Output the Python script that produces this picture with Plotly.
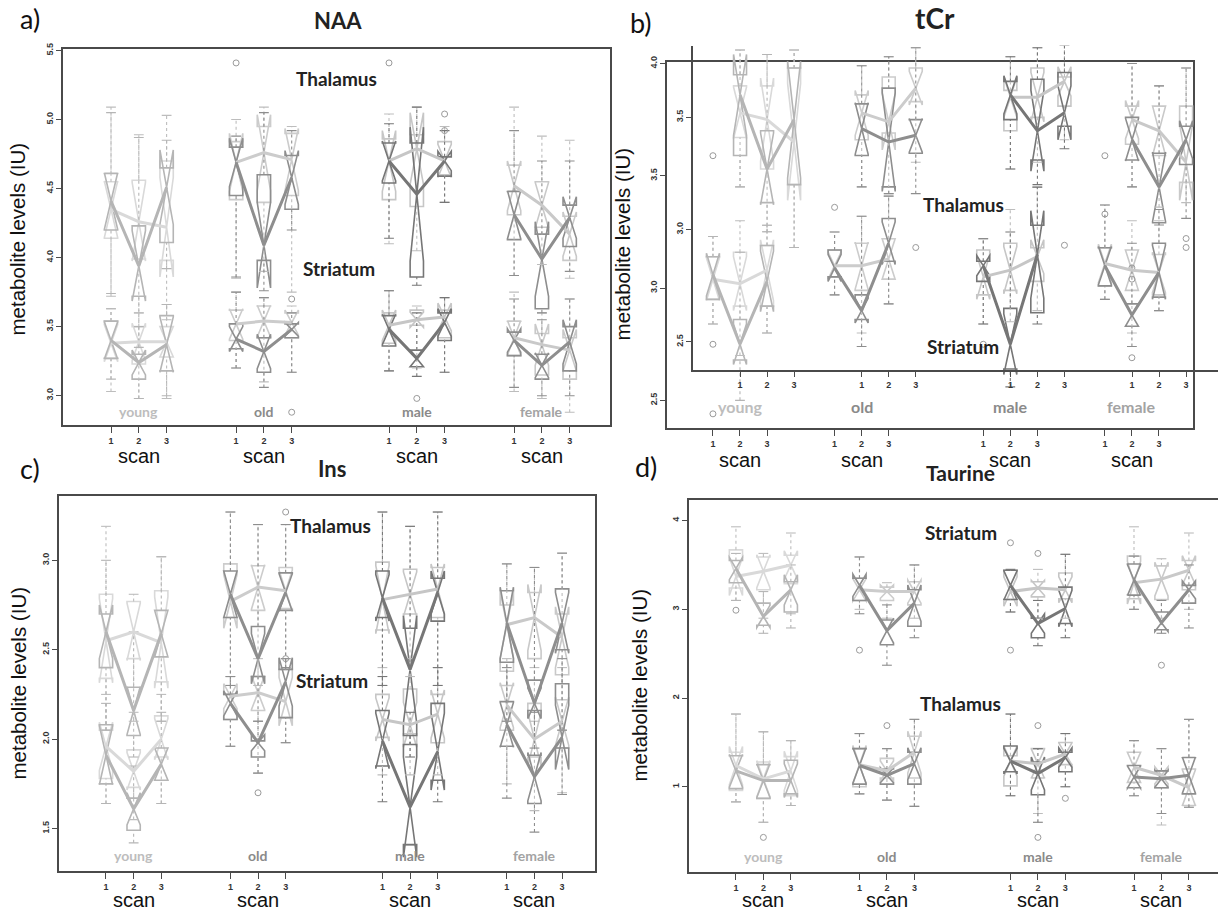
import plotly.graph_objects as go

W, H = 1218, 912

# ---------------- categories / positions ----------------
GROUPS = ["young", "old", "male", "female"]
SCAN_X = [1, 2, 3, 5.5, 6.5, 7.5, 11, 12, 13, 15.5, 16.5, 17.5]
SCAN_LABELS = ["1", "2", "3"] * 4
SCAN_MID = [2, 6.5, 12, 16.5]

# ---------------- a) NAA ----------------
A_TH_L_MED = [4.35, 4.26, 4.22, 4.69, 4.76, 4.71, 4.70, 4.79, 4.70, 4.52, 4.38, 4.17]
A_TH_L_Q1 = [4.14, 3.99, 3.98, 4.42, 4.40, 4.45, 4.42, 4.37, 4.60, 4.31, 4.22, 3.98]
A_TH_L_Q3 = [4.55, 4.56, 4.70, 4.84, 4.95, 4.90, 4.86, 4.89, 4.84, 4.67, 4.55, 4.30]
A_TH_L_LO = [3.72, 3.60, 3.55, 3.85, 3.90, 3.75, 4.10, 4.05, 4.40, 3.87, 3.95, 3.85]
A_TH_L_HI = [5.09, 4.89, 5.03, 5.00, 5.09, 4.95, 5.04, 5.09, 4.95, 5.09, 4.88, 4.85]
A_TH_D_MED = [4.41, 3.94, 4.51, 4.69, 4.09, 4.58, 4.70, 4.46, 4.70, 4.31, 3.99, 4.29]
A_TH_D_Q1 = [4.20, 3.72, 4.11, 4.45, 3.98, 4.35, 4.54, 3.86, 4.59, 4.13, 3.63, 4.08]
A_TH_D_Q3 = [4.61, 4.23, 4.65, 4.80, 4.60, 4.74, 4.83, 4.83, 4.73, 4.48, 4.17, 4.38]
A_TH_D_LO = [3.74, 3.35, 3.92, 3.86, 3.76, 4.20, 4.14, 3.80, 4.40, 3.87, 3.60, 3.90]
A_TH_D_HI = [5.05, 4.87, 4.85, 4.88, 5.05, 4.92, 4.97, 5.09, 4.92, 4.92, 4.70, 4.70]
A_ST_L_MED = [3.38, 3.39, 3.39, 3.52, 3.54, 3.53, 3.51, 3.55, 3.57, 3.42, 3.37, 3.33]
A_ST_L_Q1 = [3.27, 3.23, 3.28, 3.40, 3.42, 3.42, 3.38, 3.51, 3.42, 3.29, 3.15, 3.12]
A_ST_L_Q3 = [3.54, 3.50, 3.50, 3.62, 3.65, 3.60, 3.60, 3.62, 3.62, 3.54, 3.45, 3.42]
A_ST_L_LO = [3.03, 2.98, 2.98, 3.20, 3.10, 3.17, 3.18, 3.20, 3.17, 3.03, 2.98, 2.88]
A_ST_L_HI = [3.63, 3.60, 3.66, 3.75, 3.71, 3.65, 3.76, 3.65, 3.71, 3.75, 3.60, 3.70]
A_ST_D_MED = [3.40, 3.24, 3.37, 3.41, 3.32, 3.48, 3.48, 3.27, 3.53, 3.40, 3.22, 3.39]
A_ST_D_Q1 = [3.27, 3.12, 3.18, 3.34, 3.17, 3.42, 3.36, 3.21, 3.40, 3.29, 3.12, 3.18]
A_ST_D_Q3 = [3.54, 3.30, 3.58, 3.52, 3.42, 3.52, 3.58, 3.33, 3.60, 3.46, 3.30, 3.50]
A_ST_D_LO = [3.12, 2.98, 3.00, 3.20, 3.06, 3.17, 3.18, 3.14, 3.17, 3.06, 3.00, 3.00]
A_ST_D_HI = [3.63, 3.50, 3.66, 3.75, 3.71, 3.60, 3.76, 3.60, 3.71, 3.70, 3.55, 3.70]
A_OUT_X = [5.5, 11, 13, 13, 7.5, 7.5, 12]
A_OUT_Y = [5.41, 5.41, 5.04, 4.92, 3.70, 2.88, 2.98]

# ---------------- b) tCr ----------------
B_UP_L_MED = [3.52, 3.49, 3.39, 3.52, 3.48, 3.63, 3.59, 3.59, 3.66, 3.49, 3.44, 3.30]
B_UP_L_Q1 = [3.41, 3.27, 3.20, 3.40, 3.43, 3.57, 3.44, 3.50, 3.55, 3.38, 3.33, 3.21]
B_UP_L_Q3 = [3.64, 3.64, 3.72, 3.60, 3.68, 3.72, 3.62, 3.72, 3.68, 3.55, 3.55, 3.55]
B_UP_L_LO = [3.19, 2.99, 2.92, 3.19, 3.16, 3.30, 3.27, 3.30, 3.40, 3.19, 3.10, 3.12]
B_UP_L_HI = [3.80, 3.78, 3.80, 3.73, 3.77, 3.81, 3.77, 3.81, 3.82, 3.74, 3.64, 3.72]
B_UP_D_MED = [3.60, 3.27, 3.49, 3.45, 3.39, 3.42, 3.60, 3.44, 3.52, 3.40, 3.19, 3.40]
B_UP_D_Q1 = [3.33, 3.12, 3.20, 3.33, 3.19, 3.34, 3.49, 3.31, 3.46, 3.31, 3.03, 3.29]
B_UP_D_Q3 = [3.69, 3.44, 3.72, 3.56, 3.63, 3.49, 3.66, 3.67, 3.70, 3.50, 3.34, 3.46]
B_UP_D_LO = [3.19, 2.99, 2.92, 3.19, 3.16, 3.16, 3.27, 3.20, 3.36, 3.19, 3.02, 3.05]
B_UP_D_HI = [3.80, 3.78, 3.80, 3.73, 3.77, 3.81, 3.77, 3.81, 3.82, 3.74, 3.64, 3.72]
B_LO_L_MED = [3.04, 3.02, 3.08, 3.10, 3.10, 3.13, 3.05, 3.08, 3.14, 3.11, 3.08, 3.07]
B_LO_L_Q1 = [2.95, 2.92, 2.92, 3.05, 2.99, 3.04, 2.97, 2.99, 3.03, 3.01, 2.99, 2.97]
B_LO_L_Q3 = [3.14, 3.16, 3.19, 3.17, 3.20, 3.22, 3.17, 3.20, 3.18, 3.18, 3.17, 3.15]
B_LO_L_LO = [2.84, 2.70, 2.80, 2.97, 2.80, 2.93, 2.84, 2.85, 2.90, 2.95, 2.80, 2.90]
B_LO_L_HI = [3.23, 3.30, 3.28, 3.25, 3.32, 3.41, 3.22, 3.35, 3.45, 3.37, 3.30, 3.30]
B_LO_D_MED = [3.06, 2.75, 3.03, 3.09, 2.90, 3.20, 3.10, 2.75, 3.15, 3.10, 2.88, 3.07]
B_LO_D_Q1 = [2.95, 2.68, 2.92, 3.05, 2.86, 3.12, 3.03, 2.64, 2.89, 3.01, 2.83, 2.96]
B_LO_D_Q3 = [3.14, 2.86, 3.19, 3.17, 2.97, 3.31, 3.12, 2.91, 3.28, 3.18, 2.93, 3.20]
B_LO_D_LO = [2.84, 2.50, 2.80, 2.97, 2.74, 2.93, 2.84, 2.56, 2.84, 2.95, 2.74, 2.90]
B_LO_D_HI = [3.23, 3.16, 3.28, 3.25, 3.32, 3.41, 3.22, 3.25, 3.45, 3.37, 3.20, 3.35]
B_OUT_LO_X = [1, 1, 1, 5.5, 11, 15.5, 15.5, 16.5, 16.5, 16.5]
B_OUT_LO_Y = [3.59, 2.75, 2.44, 3.36, 2.75, 3.59, 3.33, 3.09, 3.04, 2.69]
B_OUT_UP_X = [7.5, 13, 17.5, 17.5]
B_OUT_UP_Y = [2.92, 2.93, 2.96, 2.92]

# ---------------- c) Ins ----------------
C_TH_L_MED = [2.55, 2.60, 2.54, 2.77, 2.85, 2.83, 2.78, 2.81, 2.84, 2.64, 2.68, 2.57]
C_TH_L_Q1 = [2.34, 2.45, 2.32, 2.68, 2.72, 2.73, 2.61, 2.70, 2.68, 2.38, 2.45, 2.36]
C_TH_L_Q3 = [2.81, 2.77, 2.83, 2.98, 2.97, 2.96, 2.99, 2.95, 2.96, 2.75, 2.82, 2.70]
C_TH_L_LO = [2.05, 2.10, 2.10, 2.30, 2.30, 2.40, 2.30, 2.35, 2.30, 2.10, 2.10, 2.05]
C_TH_L_HI = [3.19, 2.81, 3.02, 3.27, 3.20, 3.20, 3.27, 3.19, 3.27, 2.98, 2.96, 3.04]
C_TH_D_MED = [2.60, 2.16, 2.59, 2.81, 2.45, 2.82, 2.79, 2.39, 2.82, 2.65, 2.20, 2.65]
C_TH_D_Q1 = [2.40, 2.02, 2.46, 2.68, 2.35, 2.72, 2.68, 2.02, 2.66, 2.43, 2.16, 2.50]
C_TH_D_Q3 = [2.70, 2.29, 2.72, 2.94, 2.63, 2.93, 2.94, 2.62, 2.90, 2.83, 2.33, 2.84]
C_TH_D_LO = [2.05, 1.90, 2.10, 2.30, 2.10, 2.40, 2.30, 1.90, 2.30, 2.10, 1.95, 2.05]
C_TH_D_HI = [3.00, 2.60, 3.02, 3.27, 3.20, 3.20, 3.27, 3.19, 3.27, 2.98, 2.96, 3.04]
C_ST_L_MED = [1.96, 1.82, 2.00, 2.24, 2.26, 2.21, 2.11, 2.08, 2.14, 2.19, 2.00, 2.10]
C_ST_L_Q1 = [1.78, 1.73, 1.90, 2.11, 2.16, 2.12, 2.01, 2.03, 1.98, 2.05, 1.90, 1.95]
C_ST_L_Q3 = [2.05, 1.94, 2.13, 2.25, 2.35, 2.39, 2.25, 2.28, 2.25, 2.30, 2.20, 2.22]
C_ST_L_LO = [1.64, 1.55, 1.64, 1.96, 1.81, 1.98, 1.80, 1.80, 1.80, 1.75, 1.60, 1.70]
C_ST_L_HI = [2.25, 2.15, 2.25, 2.35, 2.45, 2.45, 2.40, 2.45, 2.40, 2.45, 2.40, 2.40]
C_ST_D_MED = [1.91, 1.61, 1.86, 2.20, 1.98, 2.32, 1.99, 1.62, 1.93, 2.08, 1.79, 2.01]
C_ST_D_Q1 = [1.75, 1.49, 1.77, 2.11, 1.90, 2.12, 1.85, 1.41, 1.77, 1.96, 1.64, 1.95]
C_ST_D_Q3 = [2.08, 1.67, 1.95, 2.25, 1.99, 2.39, 2.16, 1.97, 2.20, 2.21, 1.91, 2.31]
C_ST_D_LO = [1.64, 1.42, 1.64, 1.96, 1.81, 1.98, 1.65, 1.41, 1.65, 1.67, 1.48, 1.69]
C_ST_D_HI = [2.20, 1.85, 2.15, 2.35, 2.10, 2.45, 2.35, 2.15, 2.40, 2.40, 2.15, 2.45]
C_OUT_X = [6.5, 7.5, 7.5]
C_OUT_Y = [1.70, 2.45, 3.27]

# ---------------- d) Taurine ----------------
D_ST_L_MED = [3.37, 3.43, 3.50, 3.22, 3.20, 3.20, 3.20, 3.24, 3.22, 3.30, 3.34, 3.44]
D_ST_L_Q1 = [3.24, 3.22, 3.29, 3.10, 3.10, 3.05, 3.11, 3.14, 3.12, 3.12, 3.11, 3.22]
D_ST_L_Q3 = [3.67, 3.59, 3.61, 3.35, 3.25, 3.31, 3.44, 3.31, 3.41, 3.60, 3.49, 3.55]
D_ST_L_LO = [3.10, 2.90, 2.95, 3.00, 2.90, 2.90, 2.97, 2.90, 2.90, 3.00, 2.90, 3.00]
D_ST_L_HI = [3.93, 3.63, 3.86, 3.59, 3.30, 3.50, 3.45, 3.45, 3.62, 3.93, 3.57, 3.86]
D_ST_D_MED = [3.46, 2.92, 3.22, 3.27, 2.76, 3.07, 3.27, 2.84, 3.01, 3.33, 2.85, 3.22]
D_ST_D_Q1 = [3.30, 2.82, 2.97, 3.10, 2.60, 2.81, 3.11, 2.68, 2.84, 3.16, 2.77, 3.07]
D_ST_D_Q3 = [3.55, 3.07, 3.31, 3.35, 2.88, 3.22, 3.44, 2.90, 3.25, 3.51, 2.97, 3.27]
D_ST_D_LO = [3.10, 2.73, 2.79, 2.95, 2.37, 2.68, 2.97, 2.59, 2.68, 3.00, 2.73, 2.79]
D_ST_D_HI = [3.63, 3.20, 3.50, 3.59, 3.05, 3.50, 3.45, 3.10, 3.62, 3.60, 3.10, 3.50]
D_TH_L_MED = [1.24, 1.09, 1.18, 1.25, 1.18, 1.39, 1.29, 1.26, 1.37, 1.22, 1.13, 0.99]
D_TH_L_Q1 = [0.96, 0.87, 0.90, 1.00, 1.10, 1.10, 1.01, 1.10, 1.25, 1.05, 0.99, 0.79]
D_TH_L_Q3 = [1.39, 1.28, 1.34, 1.43, 1.32, 1.57, 1.35, 1.43, 1.50, 1.39, 1.18, 1.20]
D_TH_L_LO = [0.83, 0.60, 0.79, 0.92, 0.85, 0.78, 0.90, 0.70, 1.00, 0.90, 0.57, 0.77]
D_TH_L_HI = [1.82, 1.62, 1.52, 1.60, 1.43, 1.76, 1.82, 1.43, 1.60, 1.52, 1.43, 1.76]
D_TH_D_MED = [1.18, 1.07, 1.07, 1.24, 1.13, 1.26, 1.29, 1.15, 1.33, 1.11, 1.09, 1.13]
D_TH_D_Q1 = [0.98, 0.87, 0.92, 1.03, 1.03, 1.03, 1.17, 0.91, 1.17, 0.99, 0.99, 0.92]
D_TH_D_Q3 = [1.35, 1.25, 1.30, 1.43, 1.20, 1.39, 1.46, 1.28, 1.39, 1.24, 1.18, 1.33]
D_TH_D_LO = [0.83, 0.60, 0.79, 0.92, 0.85, 0.78, 0.90, 0.60, 1.00, 0.90, 0.70, 0.77]
D_TH_D_HI = [1.82, 1.62, 1.52, 1.60, 1.43, 1.76, 1.82, 1.43, 1.60, 1.52, 1.43, 1.76]
D_OUT_X = [1, 5.5, 11, 11, 12, 16.5, 2, 6.5, 12, 12, 13]
D_OUT_Y = [2.99, 2.54, 3.75, 2.54, 3.63, 2.37, 0.43, 1.69, 1.69, 0.43, 0.87]

# ---------------- styles ----------------
COL = {
    "young": ("#d9d9d9", "#b5b5b5"),
    "old": ("#cccccc", "#8e8e8e"),
    "male": ("#c6c6c6", "#767676"),
    "female": ("#c9c9c9", "#8e8e8e"),
}
WHISK_COL = "#bdbdbd"
GROUP_LABEL_COL = ["#bdbdbd", "#8a8a8a", "#8a8a8a", "#a3a3a3"]
NOTCH_K = 0.5
BOX_W = 0.48


def fx(p):
    return p / W


def fy(p):
    return 1 - p / H


fig = go.Figure()


def add_boxes(xa, ya, med, q1, q3, lo, hi, shade):
    for gi, g in enumerate(GROUPS):
        s = slice(gi * 3, gi * 3 + 3)
        c = COL[g][shade]
        wc = WHISK_COL if shade == 0 else c
        xs = SCAN_X[s]
        # dotted whiskers with small caps
        wx, wy, cx, cy = [], [], [], []
        for x, a, b, l, h in zip(xs, q1[s], q3[s], lo[s], hi[s]):
            wx += [x, x, None, x, x, None]
            wy += [l, a, None, b, h, None]
            cx += [x, x]
            cy += [l, h]
        fig.add_trace(go.Scatter(
            x=wx, y=wy, mode="lines", line=dict(color=wc, width=1.1, dash="dot"),
            xaxis=xa, yaxis=ya, showlegend=False, hoverinfo="skip"))
        fig.add_trace(go.Scatter(
            x=cx, y=cy, mode="markers",
            marker=dict(symbol="line-ew-open", size=7, color=wc, line=dict(color=wc, width=1.1)),
            xaxis=xa, yaxis=ya, showlegend=False, hoverinfo="skip"))
        notch = [NOTCH_K * (b - a) for a, b in zip(q1[s], q3[s])]
        fig.add_trace(go.Box(
            x=xs, q1=q1[s], median=med[s], q3=q3[s],
            lowerfence=q1[s], upperfence=q3[s], notchspan=notch,
            notched=True, notchwidth=0.5, width=BOX_W, whiskerwidth=0,
            line=dict(color=c, width=1.6), fillcolor="rgba(0,0,0,0)",
            xaxis=xa, yaxis=ya, showlegend=False, hoverinfo="skip"))


def add_lines(xa, ya, med, shade):
    for gi, g in enumerate(GROUPS):
        s = slice(gi * 3, gi * 3 + 3)
        fig.add_trace(go.Scatter(
            x=SCAN_X[s], y=med[s], mode="lines",
            line=dict(color=COL[g][shade], width=3),
            xaxis=xa, yaxis=ya, showlegend=False, hoverinfo="skip"))


def add_outliers(xa, ya, xs, ys):
    fig.add_trace(go.Scatter(
        x=xs, y=ys, mode="markers",
        marker=dict(symbol="circle-open", size=6, color="#9a9a9a", line=dict(width=1)),
        xaxis=xa, yaxis=ya, showlegend=False, hoverinfo="skip"))


def panel(xa, ya, series, outs):
    for s in series:
        add_boxes(xa, ya, *s[:5], 0)
    for s in series:
        add_boxes(xa, ya, *s[5:10], 1)
    for o in outs:
        add_outliers(xa, ya, *o)
    for s in series:
        add_lines(xa, ya, s[0], 0)
    for s in series:
        add_lines(xa, ya, s[5], 1)


# a
panel("x", "y", [
    (A_TH_L_MED, A_TH_L_Q1, A_TH_L_Q3, A_TH_L_LO, A_TH_L_HI,
     A_TH_D_MED, A_TH_D_Q1, A_TH_D_Q3, A_TH_D_LO, A_TH_D_HI),
    (A_ST_L_MED, A_ST_L_Q1, A_ST_L_Q3, A_ST_L_LO, A_ST_L_HI,
     A_ST_D_MED, A_ST_D_Q1, A_ST_D_Q3, A_ST_D_LO, A_ST_D_HI)],
    [(A_OUT_X, A_OUT_Y)])
# b outer (lower set)
panel("x2", "y2", [
    (B_LO_L_MED, B_LO_L_Q1, B_LO_L_Q3, B_LO_L_LO, B_LO_L_HI,
     B_LO_D_MED, B_LO_D_Q1, B_LO_D_Q3, B_LO_D_LO, B_LO_D_HI)],
    [(B_OUT_LO_X, B_OUT_LO_Y)])
# b inner (upper set)
panel("x3", "y3", [
    (B_UP_L_MED, B_UP_L_Q1, B_UP_L_Q3, B_UP_L_LO, B_UP_L_HI,
     B_UP_D_MED, B_UP_D_Q1, B_UP_D_Q3, B_UP_D_LO, B_UP_D_HI)],
    [(B_OUT_UP_X, B_OUT_UP_Y)])
# c
panel("x4", "y4", [
    (C_TH_L_MED, C_TH_L_Q1, C_TH_L_Q3, C_TH_L_LO, C_TH_L_HI,
     C_TH_D_MED, C_TH_D_Q1, C_TH_D_Q3, C_TH_D_LO, C_TH_D_HI),
    (C_ST_L_MED, C_ST_L_Q1, C_ST_L_Q3, C_ST_L_LO, C_ST_L_HI,
     C_ST_D_MED, C_ST_D_Q1, C_ST_D_Q3, C_ST_D_LO, C_ST_D_HI)],
    [(C_OUT_X, C_OUT_Y)])
# d
panel("x5", "y5", [
    (D_ST_L_MED, D_ST_L_Q1, D_ST_L_Q3, D_ST_L_LO, D_ST_L_HI,
     D_ST_D_MED, D_ST_D_Q1, D_ST_D_Q3, D_ST_D_LO, D_ST_D_HI),
    (D_TH_L_MED, D_TH_L_Q1, D_TH_L_Q3, D_TH_L_LO, D_TH_L_HI,
     D_TH_D_MED, D_TH_D_Q1, D_TH_D_Q3, D_TH_D_LO, D_TH_D_HI)],
    [(D_OUT_X, D_OUT_Y)])

LINE_C = "#4a4a4a"
TICKFONT = dict(family="Liberation Sans", size=9, color="#333", weight="bold")


def xaxis(x0, x1, rng, anchor, mirror=True):
    return dict(domain=[fx(x0), fx(x1)], range=rng, anchor=anchor,
                tickmode="array", tickvals=SCAN_X, ticktext=SCAN_LABELS,
                ticks="outside", ticklen=6, tickwidth=1.3, tickcolor=LINE_C,
                showline=True, linecolor=LINE_C, linewidth=1.5, mirror=mirror,
                showgrid=False, zeroline=False, tickfont=TICKFONT, fixedrange=True)


def yaxis(top, bot, rng, anchor, tickvals, fmt, mirror=True):
    return dict(domain=[fy(bot), fy(top)], range=rng, anchor=anchor,
                tickmode="array", tickvals=tickvals, tickformat=fmt, tickangle=-90,
                ticks="outside", ticklen=5, tickwidth=1.3, tickcolor=LINE_C,
                showline=True, linecolor=LINE_C, linewidth=1.5, mirror=mirror,
                showgrid=False, zeroline=False, tickfont=TICKFONT, fixedrange=True)


fig.update_layout(
    width=W, height=H, autosize=False,
    margin=dict(l=0, r=0, t=0, b=0),
    paper_bgcolor="white", plot_bgcolor="rgba(0,0,0,0)",
    boxmode="overlay", showlegend=False,
    xaxis=xaxis(63, 610, [-0.727, 18.95], "y"),
    yaxis=yaxis(43, 422, [2.786, 5.513], "x", [3.0, 3.5, 4.0, 4.5, 5.0, 5.5], ".1f"),
    xaxis2=xaxis(667, 1193, [-0.70, 18.76], "y2"),
    yaxis2=yaxis(56, 425, [2.376, 4.009], "x2", [2.5, 3.0, 3.5, 4.0], ".1f"),
    xaxis3=xaxis(693, 1218, [-0.74, 18.68], "y3", mirror=False),
    yaxis3=yaxis(40, 366, [2.376, 3.819], "x3", [2.5, 3.0, 3.5], ".1f", mirror=False),
    xaxis4=xaxis(59, 595, [-0.70, 18.69], "y4"),
    yaxis4=yaxis(493, 871, [1.261, 3.361], "x4", [1.5, 2.0, 2.5, 3.0], ".1f"),
    xaxis5=xaxis(689, 1218, [-0.71, 18.56], "y5"),
    yaxis5=yaxis(497, 872, [0.037, 4.235], "x5", [1, 2, 3, 4], "d", mirror=False),
)

ann = []
BOLD = dict(family="Lato", weight="bold", color="#222")


def txt(x, y, text, size, font=None, angle=0, xref="paper", yref="paper", color=None):
    f = dict(font or dict(family="Liberation Sans", color="#111"))
    f["size"] = size
    if color:
        f["color"] = color
    ann.append(dict(x=x, y=y, xref=xref, yref=yref, text=text, showarrow=False,
                    xanchor="center", yanchor="middle", textangle=angle, font=f))


def py_(p, size):
    # compensate the visual drop of centred annotation text
    return fy(p - 0.27 * size)


# panel letters
for t, px, py in [("a)", 30, 20), ("b)", 641, 24), ("c)", 30, 473), ("d)", 646, 471)]:
    txt(fx(px), py_(py, 27), t, 27, dict(family="Lato", color="#111"))
# titles
txt(fx(338), py_(21, 22), "NAA", 22, BOLD)
txt(fx(935), py_(20, 28), "tCr", 28, BOLD)
txt(fx(332), py_(472, 22), "Ins", 22, BOLD)
txt(fx(960), py_(475, 21), "Taurine", 21, BOLD)
# y titles
for px, py in [(22, 235), (627, 240), (24, 682), (644, 684)]:
    txt(fx(px - 5), fy(py), "metabolite levels (IU)", 20.5, angle=-90)
# region labels
for t, px, py in [("Thalamus", 336, 78), ("Striatum", 339, 269),
                  ("Thalamus", 963, 205), ("Striatum", 963, 348),
                  ("Thalamus", 330, 528), ("Striatum", 332, 684),
                  ("Striatum", 961, 535), ("Thalamus", 960, 707)]:
    txt(fx(px), py_(py, 19), t, 19, BOLD)
# group labels and scan labels
for xa, gy, sy, gsize in [("x", 412, 453, 14), ("x2", 407, 457, 16),
                          ("x4", 859, 900, 14), ("x5", 860, 900, 14)]:
    for gi, g in enumerate(GROUPS):
        txt(SCAN_MID[gi], py_(gy, gsize), g, gsize, dict(family="Lato", weight="bold"),
            xref=xa, color=GROUP_LABEL_COL[gi])
        txt(SCAN_MID[gi], fy(sy), "scan", 20, xref=xa)

fig.update_layout(annotations=ann)
fig.write_html("out.html")
